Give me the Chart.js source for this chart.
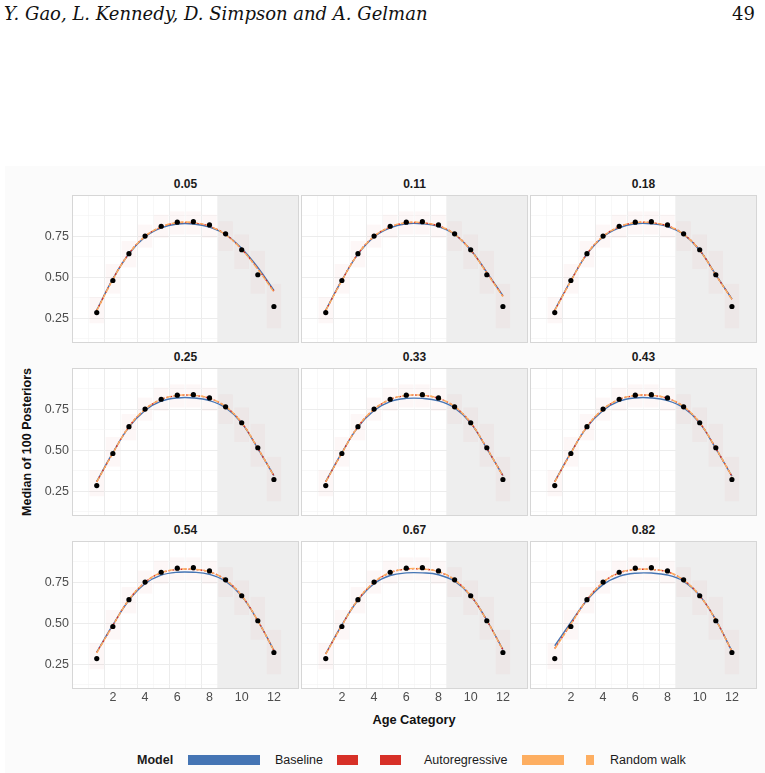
<!DOCTYPE html>
<html>
<head>
<meta charset="utf-8">
<script src="https://cdn.jsdelivr.net/npm/chart.js@4.4.1/dist/chart.umd.min.js"></script>
<style>
  body { margin: 0; width: 765px; height: 773px; background: #fff; position: relative; overflow: hidden;
         font-family: "Liberation Sans", Arial, sans-serif; }
  .abs { position: absolute; }
  .ptitle { font-weight: bold; font-size: 12px; line-height: 14px; text-align: center; color: #1a1a1a; }
  .ltext { font-size: 12.5px; line-height: 14px; color: #1a1a1a; }
</style>
</head>
<body>
<div class="abs" style="left:5px;top:166px;width:760px;height:607px;background:#fbfbfb"></div>
<div class="abs" style="left:4px;top:3px;font:italic 18px/22px 'DejaVu Serif',serif;color:#111">Y. Gao, L. Kennedy, D. Simpson and A. Gelman</div>
<div class="abs" style="right:10px;top:3px;font:18px/22px 'DejaVu Serif',serif;color:#111">49</div>
<div class="abs" style="left:-123px;top:435px;width:300px;text-align:center;transform:rotate(-90deg);font-weight:bold;font-size:12.5px;line-height:14px;color:#111">Median of 100 Posteriors</div>
<div class="abs" style="left:264px;top:713px;width:300px;text-align:center;font-weight:bold;font-size:12.8px;line-height:14px;color:#111">Age Category</div>
<div id="legend"></div>

<script>
// facet labels
const panelTitles = ["0.05", "0.11", "0.18", "0.25", "0.33", "0.43", "0.54", "0.67", "0.82"];
const ageCategory = [1, 2, 3, 4, 5, 6, 7, 8, 9, 10, 11, 12];
const xLabelTicks = [2, 4, 6, 8, 10, 12];
const yLabelTicks = [0.25, 0.5, 0.75];
const yMinorTicks = [0.125, 0.375, 0.625, 0.875];
const holdoutStart = 8.5;

// observed values (black dots), same in every panel
const observed = [0.285, 0.48, 0.643, 0.75, 0.81, 0.835, 0.838, 0.818, 0.764, 0.667, 0.515, 0.322];
// spread of the posterior draws around each category
const cloudLow  = [0.22, 0.40, 0.56, 0.68, 0.74, 0.76, 0.76, 0.74, 0.66, 0.55, 0.40, 0.19];
const cloudHigh = [0.38, 0.58, 0.72, 0.82, 0.88, 0.90, 0.90, 0.88, 0.84, 0.76, 0.66, 0.46];

const modelNames = ["Baseline", "Autoregressive", "Random walk"];

const baselineFits = [
  [0.300, 0.490, 0.643, 0.745, 0.800, 0.824, 0.824, 0.805, 0.760, 0.675, 0.560, 0.420],
  [0.300, 0.482, 0.640, 0.745, 0.800, 0.825, 0.825, 0.808, 0.760, 0.666, 0.530, 0.388],
  [0.300, 0.480, 0.640, 0.745, 0.800, 0.825, 0.825, 0.808, 0.760, 0.664, 0.515, 0.368],
  [0.310, 0.485, 0.640, 0.742, 0.798, 0.818, 0.818, 0.802, 0.758, 0.665, 0.510, 0.345],
  [0.310, 0.485, 0.640, 0.742, 0.796, 0.815, 0.815, 0.800, 0.757, 0.665, 0.510, 0.345],
  [0.310, 0.485, 0.640, 0.742, 0.798, 0.818, 0.818, 0.802, 0.758, 0.665, 0.510, 0.342],
  [0.325, 0.490, 0.640, 0.740, 0.792, 0.810, 0.810, 0.797, 0.755, 0.665, 0.515, 0.335],
  [0.315, 0.490, 0.640, 0.740, 0.790, 0.806, 0.806, 0.795, 0.755, 0.667, 0.518, 0.340],
  [0.363, 0.505, 0.640, 0.735, 0.785, 0.804, 0.805, 0.793, 0.755, 0.668, 0.520, 0.330]
];
const arFits = [
  [0.298, 0.488, 0.644, 0.748, 0.805, 0.830, 0.830, 0.810, 0.760, 0.670, 0.552, 0.415],
  [0.298, 0.480, 0.642, 0.748, 0.805, 0.830, 0.830, 0.812, 0.762, 0.665, 0.528, 0.385],
  [0.298, 0.478, 0.642, 0.748, 0.806, 0.831, 0.831, 0.812, 0.762, 0.664, 0.514, 0.366],
  [0.308, 0.483, 0.643, 0.748, 0.808, 0.832, 0.833, 0.815, 0.765, 0.667, 0.512, 0.345],
  [0.308, 0.483, 0.643, 0.748, 0.808, 0.832, 0.833, 0.815, 0.765, 0.667, 0.512, 0.344],
  [0.308, 0.483, 0.643, 0.748, 0.808, 0.832, 0.833, 0.815, 0.765, 0.667, 0.512, 0.342],
  [0.322, 0.487, 0.643, 0.748, 0.806, 0.826, 0.827, 0.812, 0.763, 0.667, 0.515, 0.334],
  [0.313, 0.487, 0.643, 0.748, 0.807, 0.829, 0.829, 0.813, 0.763, 0.667, 0.517, 0.338],
  [0.347, 0.495, 0.643, 0.748, 0.806, 0.826, 0.826, 0.812, 0.762, 0.667, 0.519, 0.330]
];
const rwFits = [
  [0.296, 0.486, 0.643, 0.748, 0.806, 0.832, 0.832, 0.810, 0.758, 0.668, 0.548, 0.410],
  [0.297, 0.479, 0.642, 0.748, 0.806, 0.832, 0.832, 0.812, 0.761, 0.664, 0.525, 0.382],
  [0.297, 0.477, 0.642, 0.748, 0.807, 0.832, 0.832, 0.812, 0.761, 0.663, 0.513, 0.365],
  [0.307, 0.482, 0.643, 0.749, 0.809, 0.833, 0.834, 0.816, 0.765, 0.667, 0.512, 0.344],
  [0.307, 0.482, 0.643, 0.749, 0.809, 0.833, 0.834, 0.816, 0.765, 0.667, 0.512, 0.343],
  [0.307, 0.482, 0.643, 0.749, 0.809, 0.833, 0.834, 0.816, 0.765, 0.667, 0.512, 0.341],
  [0.320, 0.486, 0.643, 0.749, 0.807, 0.827, 0.828, 0.813, 0.763, 0.667, 0.515, 0.333],
  [0.312, 0.486, 0.643, 0.749, 0.808, 0.830, 0.830, 0.814, 0.763, 0.667, 0.517, 0.337],
  [0.344, 0.494, 0.643, 0.749, 0.807, 0.827, 0.827, 0.813, 0.762, 0.667, 0.519, 0.329]
];

const COLORS = { base: "#4575b4", ar: "#d73027", rw: "#fdae61" };
const colLeft = [72, 301, 530];
const rowTop = [195, 368, 541];
const PW = 227, PH = 148;
const YAXIS_W = 50, XAXIS_H = 22;
const tickFont = { family: "'Liberation Sans', Arial, sans-serif", size: 12.5 };

// panel background, hold-out shading and border
const panelPlugin = {
  id: "panel",
  beforeDraw(chart) {
    const { ctx, chartArea: a } = chart;
    ctx.save();
    ctx.fillStyle = "#ffffff";
    ctx.fillRect(a.left, a.top, a.right - a.left, a.bottom - a.top);
    ctx.restore();
  },
  beforeDatasetsDraw(chart) {
    const { ctx, chartArea: a } = chart;
    const x0 = chart.scales.x.getPixelForValue(holdoutStart);
    ctx.save();
    ctx.fillStyle = "#eeeeee";
    ctx.fillRect(x0, a.top, a.right - x0, a.bottom - a.top);
    ctx.restore();
  },
  afterDraw(chart) {
    const { ctx, chartArea: a } = chart;
    ctx.save();
    ctx.strokeStyle = "#d6d6d6";
    ctx.lineWidth = 1;
    ctx.strokeRect(a.left + 0.5, a.top + 0.5, a.right - a.left - 1, a.bottom - a.top - 1);
    ctx.restore();
  }
};

function pts(arr) {
  return ageCategory.map((x, i) => ({ x: x, y: arr[i] }));
}
function isMajor(list, ctx) {
  return !!(ctx.tick && list.includes(ctx.tick.value));
}

panelTitles.forEach((title, p) => {
  const r = Math.floor(p / 3), c = p % 3;
  const leftAxis = c === 0 ? YAXIS_W : 0;
  const bottomAxis = r === 2 ? XAXIS_H : 0;

  const wrap = document.createElement("div");
  wrap.className = "abs";
  wrap.style.left = (colLeft[c] - leftAxis) + "px";
  wrap.style.top = rowTop[r] + "px";
  wrap.style.width = (PW + leftAxis) + "px";
  wrap.style.height = (PH + bottomAxis) + "px";
  const cv = document.createElement("canvas");
  wrap.appendChild(cv);
  document.body.appendChild(wrap);

  const t = document.createElement("div");
  t.className = "abs ptitle";
  t.style.left = colLeft[c] + "px";
  t.style.width = PW + "px";
  t.style.top = (rowTop[r] - 18) + "px";
  t.textContent = title;
  document.body.appendChild(t);

  new Chart(cv, {
    type: "line",
    data: {
      datasets: [
        {
          type: "bar",
          data: ageCategory.map((x, i) => ({ x: x, y: [cloudLow[i], cloudHigh[i]] })),
          backgroundColor: "rgba(225,120,120,0.06)",
          borderWidth: 0,
          barPercentage: 0.9,
          categoryPercentage: 1,
          order: 5
        },
        {
          label: modelNames[0],
          data: pts(baselineFits[p]),
          borderColor: COLORS.base,
          borderWidth: 1.4,
          pointRadius: 0,
          tension: 0.4,
          fill: false,
          order: 4
        },
        {
          label: modelNames[1],
          data: pts(arFits[p]),
          borderColor: COLORS.ar,
          borderWidth: 1.4,
          borderDash: [2, 2],
          pointRadius: 0,
          tension: 0.4,
          fill: false,
          order: 3
        },
        {
          label: modelNames[2],
          data: pts(rwFits[p]),
          borderColor: COLORS.rw,
          borderWidth: 1.4,
          borderDash: [5, 2],
          pointRadius: 0,
          tension: 0.4,
          fill: false,
          order: 2
        },
        {
          data: pts(observed),
          showLine: false,
          pointRadius: 2.6,
          pointBackgroundColor: "#000",
          pointBorderWidth: 0,
          order: 1
        }
      ]
    },
    options: {
      animation: false,
      responsive: true,
      maintainAspectRatio: false,
      layout: { padding: 0, autoPadding: false },
      plugins: { legend: { display: false }, tooltip: { enabled: false } },
      scales: {
        x: {
          type: "linear",
          min: 0.05,
          max: 12.97,
          afterBuildTicks: s => { s.ticks = ageCategory.map(v => ({ value: v })); },
          afterFit: s => { s.height = bottomAxis; s.paddingLeft = 0; s.paddingRight = 0; },
          ticks: {
            display: r === 2,
            autoSkip: false,
            maxRotation: 0,
            padding: 1,
            color: "#4d4d4d",
            font: tickFont,
            callback: v => (xLabelTicks.includes(v) ? String(v) : "")
          },
          grid: {
            drawTicks: false,
            color: ctx => (isMajor(xLabelTicks, ctx) ? "#ececec" : "#f4f4f4"),
            lineWidth: ctx => (isMajor(xLabelTicks, ctx) ? 1 : 0.6)
          },
          border: { display: false }
        },
        y: {
          min: 0.1,
          max: 1.0,
          afterBuildTicks: s => {
            s.ticks = yLabelTicks.concat(yMinorTicks).sort((a, b) => a - b).map(v => ({ value: v }));
          },
          afterFit: s => { s.width = leftAxis; s.paddingTop = 0; s.paddingBottom = 0; },
          ticks: {
            display: c === 0,
            padding: 3,
            color: "#4d4d4d",
            font: tickFont,
            callback: v => (yLabelTicks.includes(v) ? v.toFixed(2) : "")
          },
          grid: {
            drawTicks: false,
            color: ctx => (isMajor(yLabelTicks, ctx) ? "#ececec" : "#f4f4f4"),
            lineWidth: ctx => (isMajor(yLabelTicks, ctx) ? 1 : 0.6)
          },
          border: { display: false }
        }
      }
    },
    plugins: [panelPlugin]
  });
});

// legend (ggplot style keys)
const legend = document.getElementById("legend");
function addText(txt, left, bold) {
  const d = document.createElement("div");
  d.className = "abs ltext";
  d.style.left = left + "px";
  d.style.top = "753px";
  if (bold) d.style.fontWeight = "bold";
  d.textContent = txt;
  legend.appendChild(d);
}
function addKey(color, left, width) {
  const d = document.createElement("div");
  d.className = "abs";
  d.style.left = left + "px";
  d.style.top = "755px";
  d.style.width = width + "px";
  d.style.height = "10px";
  d.style.background = color;
  legend.appendChild(d);
}
addText("Model", 137, true);
addKey(COLORS.base, 188, 72);
addText(modelNames[0], 275);
addKey(COLORS.ar, 337, 21);
addKey(COLORS.ar, 380, 21);
addText(modelNames[1], 424);
addKey(COLORS.rw, 522, 42);
addKey(COLORS.rw, 586, 8);
addText(modelNames[2], 610);
</script>
</body>
</html>
